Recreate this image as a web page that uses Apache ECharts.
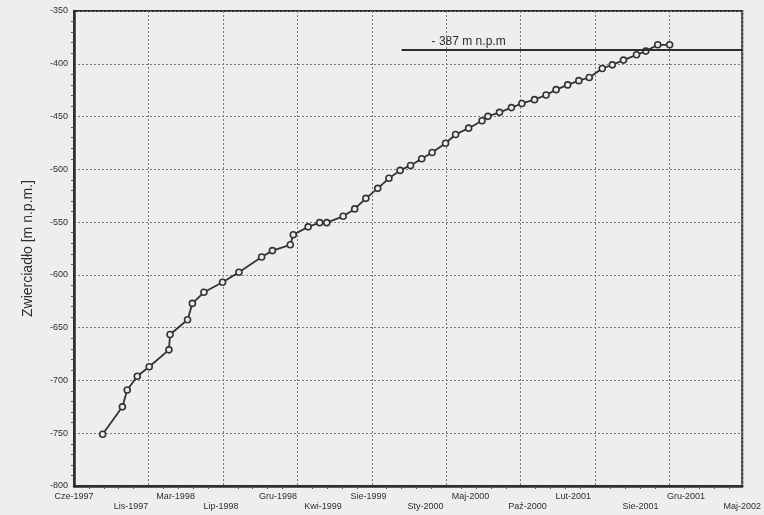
<!DOCTYPE html>
<html>
<head>
<meta charset="utf-8">
<script src="https://cdn.jsdelivr.net/npm/echarts@6/dist/echarts.min.js"></script>
<style>
html,body{margin:0;padding:0;background:#eeeeee;}
#chart{width:764px;height:515px;}
</style>
</head>
<body>
<div id="chart"></div>
<script>
// Axis range (dates)
const startDate = '1997-06-01';
const endDate = '2002-05-01';

// Measurement dates and water-table levels [m n.p.m.]
const dates = [
  '1997-08-17','1997-10-09','1997-10-22','1997-11-18','1997-12-20',
  '1998-02-11','1998-02-14','1998-04-02','1998-04-15','1998-05-16',
  '1998-07-05','1998-08-18','1998-10-18','1998-11-16','1999-01-03',
  '1999-01-11','1999-02-20','1999-03-23','1999-04-11','1999-05-25',
  '1999-06-25','1999-07-25','1999-08-26','1999-09-25','1999-10-25',
  '1999-11-22','1999-12-22','2000-01-19','2000-02-24','2000-03-22',
  '2000-04-26','2000-06-01','2000-06-17','2000-07-18','2000-08-19',
  '2000-09-16','2000-10-20','2000-11-20','2000-12-17','2001-01-17',
  '2001-02-16','2001-03-16','2001-04-20','2001-05-17','2001-06-16',
  '2001-07-21','2001-08-15','2001-09-16','2001-10-18'
];
const levels = [
  -751, -725, -709, -696, -687,
  -671, -656.5, -642.5, -627, -616.5,
  -607, -597.5, -583, -577, -571.5,
  -562, -554.5, -550.5, -550.5, -544.5,
  -537.5, -527.5, -518, -508.5, -501,
  -496.3, -490, -484, -475.3, -467,
  -461, -454, -449.8, -446, -441.5,
  -437.6, -434, -429.6, -424.5, -420,
  -416, -413, -404.5, -401, -396.5,
  -391.5, -388, -382, -382
];

// X tick labels
const tickDates = [
  '1997-06-01','1997-11-01','1998-03-01','1998-07-01','1998-12-01',
  '1999-04-01','1999-08-01','2000-01-01','2000-05-01','2000-10-01',
  '2001-02-01','2001-08-01','2001-12-01','2002-05-01'
];
const tickLabels = [
  'Cze-1997','Lis-1997','Mar-1998','Lip-1998','Gru-1998',
  'Kwi-1999','Sie-1999','Sty-2000','Maj-2000','Paź-2000',
  'Lut-2001','Sie-2001','Gru-2001','Maj-2002'
];

// Reference level annotation
const refLevel = -387;
const refStart = '1999-10-29';
const refLabel = '- 387 m n.p.m';

const yMin = -800, yMax = -350, yStep = 50;
const xStepDays = 200;

function dayOf(s){ return Math.round((Date.parse(s) - Date.parse(startDate)) / 86400000); }
const maxDay = dayOf(endDate);
const seriesData = dates.map((d, i) => [dayOf(d), levels[i]]);
const tickDays = tickDates.map(dayOf);

const font = '"Liberation Sans", Arial, sans-serif';
const ink = '#2e2e2e';

const chart = echarts.init(document.getElementById('chart'), null, {renderer: 'canvas'});
chart.setOption({
  backgroundColor: '#eeeeee',
  animation: false,
  grid: {
    left: 74, right: 21, top: 11, bottom: 29,
    show: true, borderColor: ink, borderWidth: 2, backgroundColor: 'transparent'
  },
  xAxis: [
    {
      type: 'value', min: 0, max: maxDay, interval: xStepDays,
      axisLine: {show: true, lineStyle: {color: ink, width: 2.5}},
      axisTick: {show: false},
      minorTick: {show: true, splitNumber: 5, length: 3, lineStyle: {color: '#555'}},
      axisLabel: {show: false},
      splitLine: {show: true, lineStyle: {color: '#7a7a7a', type: [2, 2], width: 1}}
    },
    {
      type: 'value', min: 0, max: maxDay, position: 'bottom',
      axisLine: {show: false}, axisTick: {show: false}, splitLine: {show: false},
      axisLabel: {
        show: true, customValues: tickDays, margin: 6,
        fontFamily: font, fontSize: 9, color: ink, lineHeight: 10,
        formatter: function (v) {
          const i = tickDays.indexOf(Math.round(v));
          if (i < 0) return '';
          return (i % 2 === 1 ? '\n' : '') + tickLabels[i];
        }
      }
    }
  ],
  yAxis: {
    type: 'value', min: yMin, max: yMax, interval: yStep,
    name: 'Zwierciadło [m n.p.m.]', nameLocation: 'middle', nameGap: 39,
    nameTextStyle: {fontFamily: font, fontSize: 14, color: ink},
    axisLine: {show: true, lineStyle: {color: ink, width: 2.5}},
    axisTick: {show: false},
    minorTick: {show: true, splitNumber: 5, length: 3, lineStyle: {color: '#555'}},
    axisLabel: {margin: 6, fontFamily: font, fontSize: 9, color: ink},
    splitLine: {show: true, lineStyle: {color: '#7a7a7a', type: [2, 2], width: 1}}
  },
  series: [{
    type: 'line',
    xAxisIndex: 0,
    data: seriesData,
    lineStyle: {color: '#333333', width: 1.8},
    symbol: 'circle', symbolSize: 6,
    itemStyle: {color: '#eeeeee', borderColor: '#333333', borderWidth: 1.6},
    markLine: {
      silent: true, symbol: 'none',
      lineStyle: {color: ink, width: 2, type: 'solid'},
      label: {
        show: true, position: 'insideStartTop', distance: [30, 2],
        formatter: refLabel, fontFamily: font, fontSize: 12, color: ink
      },
      data: [[{coord: [dayOf(refStart), refLevel]}, {coord: [maxDay, refLevel]}]]
    }
  }]
});
</script>
</body>
</html>
